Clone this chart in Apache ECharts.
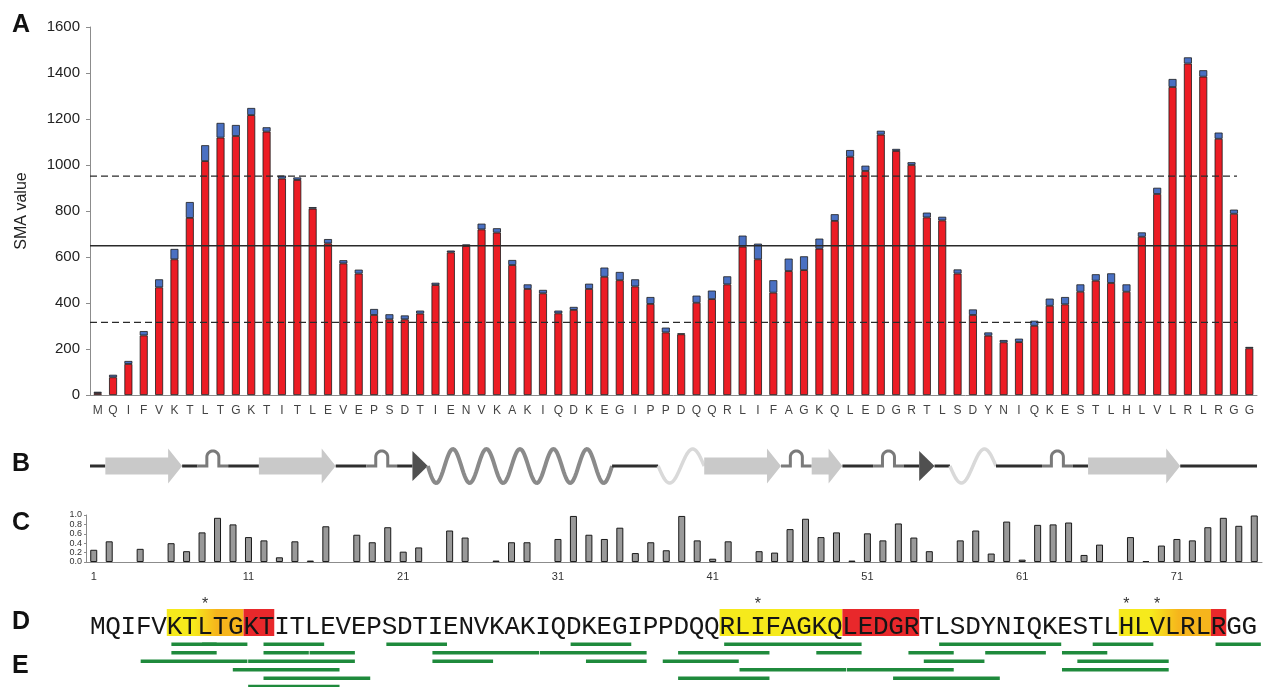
<!DOCTYPE html>
<html>
<head>
<meta charset="utf-8">
<title>Ubiquitin SMA profile</title>
<script src="https://cdn.jsdelivr.net/npm/echarts@6/dist/echarts.min.js"></script>
<style>
  html, body { margin: 0; padding: 0; background: #fff; }
  #chart { width: 1263px; height: 687px; }
</style>
</head>
<body>
<div id="chart"></div>
<script>
// ---- data ---------------------------------------------------------------
const SEQUENCE = 'MQIFVKTLTGKTITLEVEPSDTIENVKAKIQDKEGIPPDQQRLIFAGKQLEDGRTLSDYNIQKESTLHLVLRLRGG';
const residues = SEQUENCE.split('');
const residueNumbers = residues.map((_, i) => String(i + 1));

// Panel A: SMA value per residue, red core part and blue upper part
const smaRed = [8, 77, 135, 259, 468, 590, 770, 1017, 1119, 1126,
  1217, 1145, 941, 935, 810, 659, 572, 528, 348, 329,
  329, 354, 478, 620, 648, 720, 706, 565, 461, 442,
  355, 370, 461, 514, 499, 472, 396, 272, 264, 401,
  417, 481, 645, 590, 445, 539, 543, 636, 757, 1036,
  974, 1132, 1061, 1000, 772, 759, 528, 348, 258, 229,
  230, 301, 388, 394, 449, 497, 487, 449, 688, 874,
  1339, 1441, 1384, 1114, 788, 203];
const smaBlue = [6, 11, 13, 19, 35, 45, 69, 69, 64, 48,
  31, 19, 13, 11, 7, 19, 14, 17, 26, 22,
  17, 13, 10, 8, 7, 25, 19, 22, 20, 15,
  12, 13, 23, 40, 36, 31, 30, 21, 4, 31,
  37, 35, 48, 68, 54, 54, 60, 44, 29, 29,
  23, 17, 9, 12, 21, 16, 18, 24, 14, 10,
  15, 22, 31, 32, 32, 28, 42, 32, 19, 27,
  35, 27, 28, 27, 18, 6];
const smaMean = 649;
const smaUpper = 952;
const smaLower = 316;

// Panel B: secondary structure, [kind, first residue, last residue]
const secondaryStructure = [
  ['coil', 1, 1], ['strand', 2, 6], ['coil', 7, 7], ['turn', 8, 9], ['coil', 10, 11],
  ['strand', 12, 16], ['coil', 17, 18], ['turn', 19, 20], ['coil', 21, 21], ['bend', 22, 22],
  ['helix', 23, 34], ['coil', 35, 37], ['helix310', 38, 40], ['strand', 41, 45], ['turn', 46, 47],
  ['strand', 48, 49], ['coil', 50, 51], ['turn', 52, 53], ['coil', 54, 54], ['bend', 55, 55],
  ['coil', 56, 56], ['helix310', 57, 59], ['coil', 60, 62], ['turn', 63, 64], ['coil', 65, 65],
  ['strand', 66, 71], ['coil', 72, 76]
];
const SS_KINDS = ['coil', 'strand', 'turn', 'bend', 'helix', 'helix310'];

// Panel C: relative value per residue
const relValues = [0.26, 0.44, 0, 0.28, 0, 0.40, 0.23, 0.63, 0.94, 0.80,
  0.53, 0.46, 0.10, 0.44, 0.03, 0.76, 0, 0.58, 0.42, 0.74,
  0.22, 0.31, 0, 0.67, 0.52, 0, 0.03, 0.42, 0.42, 0,
  0.49, 0.98, 0.58, 0.49, 0.73, 0.19, 0.42, 0.25, 0.98, 0.46,
  0.07, 0.44, 0, 0.23, 0.20, 0.70, 0.92, 0.53, 0.63, 0.03,
  0.61, 0.46, 0.82, 0.52, 0.23, 0, 0.46, 0.67, 0.18, 0.86,
  0.05, 0.79, 0.80, 0.84, 0.15, 0.37, 0, 0.53, 0.02, 0.35,
  0.49, 0.46, 0.74, 0.94, 0.77, 0.99];

// Panel D: highlighted stretches [first, last, kind] and starred residues
const highlights = [
  [6, 10, 'fade'], [11, 12, 'red'],
  [42, 49, 'yellow'], [50, 54, 'red'],
  [68, 73, 'fade'], [74, 74, 'red']
];
const starred = [8, 44, 68, 70];

// Panel E: peptides [row, first residue, last residue]
const peptides = [
  [0, 6, 8], [0, 8, 10], [0, 12, 15], [0, 20, 23], [0, 32, 35], [0, 42, 50], [0, 56, 63], [0, 66, 69], [0, 74, 76],
  [1, 6, 8], [1, 12, 14], [1, 15, 17], [1, 23, 29], [1, 30, 36], [1, 39, 44], [1, 48, 50], [1, 54, 56], [1, 59, 62], [1, 64, 66],
  [2, 4, 10], [2, 11, 17], [2, 23, 26], [2, 33, 36], [2, 38, 42], [2, 55, 58], [2, 65, 70],
  [3, 10, 16], [3, 43, 49], [3, 50, 56], [3, 64, 70],
  [4, 12, 18], [4, 39, 44], [4, 53, 59],
  [5, 11, 16]
];

// ---- styles -------------------------------------------------------------
const SANS = "'Liberation Sans', Arial, sans-serif";
const MONO = "'Liberation Mono', 'Courier New', monospace";
const COLORS = {
  red: '#ec1c24', blue: '#4a70c2', edge: '#1c1c1c', axis: '#8c8c8c',
  coil: '#2e2e2e', strand: '#c9c9c9', turn: '#7a7a7a', bend: '#505050',
  helix: '#8a8a8a', helix310: '#d9d9d9', peptide: '#1f8a3c',
  hlYellow: '#f6ea1c', hlOrange: '#f6b51c', hlRed: '#e8282b'
};

// ---- renderers ----------------------------------------------------------
function wavePoints(x0, x1, yc, amp, periods) {
  const pts = [];
  const n = 160;
  for (let i = 0; i <= n; i++) {
    const t = i / n;
    pts.push([x0 + (x1 - x0) * t, yc + amp * Math.sin(2 * Math.PI * periods * t)]);
  }
  return pts;
}

function renderStructure(params, api) {
  const kind = SS_KINDS[api.value(2)];
  const p0 = api.coord([api.value(0), 0]);
  const p1 = api.coord([api.value(1), 0]);
  const x0 = p0[0], x1 = p1[0], yc = p0[1];
  if (kind === 'coil') {
    return { type: 'line', shape: { x1: x0, y1: yc, x2: x1, y2: yc },
      style: { stroke: COLORS.coil, lineWidth: 3 } };
  }
  if (kind === 'strand') {
    const h = 8.5, H = 17.5, L = Math.min(14, (x1 - x0) * 0.45);
    return { type: 'polygon', shape: { points: [
      [x0, yc - h], [x1 - L, yc - h], [x1 - L, yc - H], [x1, yc],
      [x1 - L, yc + H], [x1 - L, yc + h], [x0, yc + h]] },
      style: { fill: COLORS.strand } };
  }
  if (kind === 'bend') {
    return { type: 'polygon', shape: { points: [[x0, yc - 15], [x1, yc], [x0, yc + 15]] },
      style: { fill: COLORS.bend } };
  }
  if (kind === 'turn') {
    const xm = (x0 + x1) / 2, r = 6, rise = 9;
    const pts = [[x0, yc], [xm - r, yc], [xm - r, yc - rise]];
    for (let i = 0; i <= 20; i++) {
      const a = Math.PI - Math.PI * i / 20;
      pts.push([xm + r * Math.cos(a), yc - rise - r * Math.sin(a)]);
    }
    pts.push([xm + r, yc - rise], [xm + r, yc], [x1, yc]);
    return { type: 'polyline', shape: { points: pts },
      style: { stroke: COLORS.turn, lineWidth: 3, fill: null } };
  }
  if (kind === 'helix') {
    return { type: 'polyline', shape: { points: wavePoints(x0, x1, yc, 17, 5.5) },
      style: { stroke: COLORS.helix, lineWidth: 4, fill: null } };
  }
  return { type: 'polyline', shape: { points: wavePoints(x0, x1, yc, 17, 1) },
    style: { stroke: COLORS.helix310, lineWidth: 3.5, fill: null } };
}

function highlightFill(kind) {
  if (kind === 'red') return COLORS.hlRed;
  if (kind === 'yellow') return COLORS.hlYellow;
  return new echarts.graphic.LinearGradient(0, 0, 1, 0, [
    { offset: 0, color: COLORS.hlYellow },
    { offset: 0.35, color: COLORS.hlYellow },
    { offset: 0.65, color: COLORS.hlOrange },
    { offset: 1, color: COLORS.hlOrange }
  ]);
}

function renderHighlight(params, api) {
  const a = api.coord([api.value(0) - 1, 1]);
  const b = api.coord([api.value(1), 0]);
  return { type: 'rect', shape: { x: a[0], y: a[1], width: b[0] - a[0], height: b[1] - a[1] },
    style: { fill: highlightFill(highlights[params.dataIndex][2]) } };
}

function renderLetter(params, api) {
  const p = api.coord([api.value(0) - 0.5, 0.32]);
  return { type: 'text', style: { text: residues[params.dataIndex], x: p[0], y: p[1],
    align: 'center', verticalAlign: 'middle', font: '26px ' + MONO, fill: '#151515' } };
}

function renderStar(params, api) {
  const p = api.coord([api.value(0) - 0.5, 1]);
  return { type: 'text', style: { text: '*', x: p[0], y: p[1] - 4,
    align: 'center', verticalAlign: 'middle', font: '16px ' + SANS, fill: '#333' } };
}

function renderPeptide(params, api) {
  const a = api.coord([api.value(1) - 1 + 0.3, api.value(0)]);
  const b = api.coord([api.value(2) + 0.25, api.value(0)]);
  return { type: 'line', shape: { x1: a[0], y1: a[1], x2: b[0], y2: b[1] },
    style: { stroke: COLORS.peptide, lineWidth: 3.5 } };
}

// ---- chart --------------------------------------------------------------
const chart = echarts.init(document.getElementById('chart'), null, { renderer: 'canvas' });

const hiddenValueX = (grid) => ({ type: 'value', gridIndex: grid, min: 0, max: residues.length, show: false });
const panelLabel = (text, y) => ({ type: 'text', left: 12, top: y - 13,
  style: { text, font: 'bold 25px ' + SANS, fill: '#111' } });

const option = {
  animation: false,
  textStyle: { fontFamily: SANS },
  grid: [
    { left: 90, top: 27, width: 1167, height: 368 },
    { left: 90, top: 440, width: 1167, height: 52 },
    { left: 86, top: 515, width: 1176, height: 47 },
    { left: 90, top: 609, width: 1167, height: 27 },
    { left: 90, top: 644.3, width: 1167, height: 42.3 }
  ],
  xAxis: [
    { type: 'category', gridIndex: 0, data: residues,
      axisLine: { lineStyle: { color: COLORS.axis } },
      axisTick: { interval: 0, length: 4, lineStyle: { color: COLORS.axis } },
      axisLabel: { interval: 0, fontSize: 12, color: '#444', margin: 10 } },
    hiddenValueX(0),
    hiddenValueX(1),
    { type: 'category', gridIndex: 2, data: residueNumbers,
      axisLine: { lineStyle: { color: COLORS.axis } },
      axisTick: { interval: 0, length: 3, lineStyle: { color: COLORS.axis } },
      axisLabel: { interval: 9, fontSize: 11, color: '#333', margin: 9 } },
    hiddenValueX(3),
    hiddenValueX(4)
  ],
  yAxis: [
    { type: 'value', gridIndex: 0, min: 0, max: 1600, interval: 200,
      name: 'SMA value', nameLocation: 'middle', nameGap: 60,
      nameTextStyle: { fontSize: 16, color: '#222' },
      axisLine: { show: true, lineStyle: { color: COLORS.axis } },
      axisTick: { show: true, length: 4, lineStyle: { color: COLORS.axis } },
      axisLabel: { fontSize: 15, color: '#222', margin: 10, formatter: (v) => String(v) },
      splitLine: { show: false } },
    { type: 'value', gridIndex: 1, min: -1, max: 1, show: false },
    { type: 'value', gridIndex: 2, min: 0, max: 1, interval: 0.2,
      axisLine: { show: true, lineStyle: { color: COLORS.axis } },
      axisTick: { show: true, length: 2, lineStyle: { color: COLORS.axis } },
      axisLabel: { fontSize: 9, color: '#333', margin: 4, lineHeight: 9,
        formatter: (v) => v.toFixed(1) },
      splitLine: { show: false } },
    { type: 'value', gridIndex: 3, min: 0, max: 1, show: false },
    { type: 'value', gridIndex: 4, min: 0, max: 5, inverse: true, show: false }
  ],
  graphic: [
    panelLabel('A', 26), panelLabel('B', 465), panelLabel('C', 524),
    panelLabel('D', 623), panelLabel('E', 667)
  ],
  series: [
    { type: 'bar', name: 'core', xAxisIndex: 0, yAxisIndex: 0, stack: 'sma', data: smaRed,
      barWidth: '52%', itemStyle: { color: COLORS.red, borderColor: COLORS.edge, borderWidth: 0.8 } },
    { type: 'bar', name: 'extra', xAxisIndex: 0, yAxisIndex: 0, stack: 'sma', data: smaBlue,
      barWidth: '52%', itemStyle: { color: COLORS.blue, borderColor: COLORS.edge, borderWidth: 0.8 } },
    { type: 'line', xAxisIndex: 1, yAxisIndex: 0, symbol: 'none', silent: true,
      data: [[0, smaMean], [74.7, smaMean]], lineStyle: { color: '#2a2a2a', width: 1.3 } },
    { type: 'line', xAxisIndex: 1, yAxisIndex: 0, symbol: 'none', silent: true,
      data: [[0, smaUpper], [74.7, smaUpper]], lineStyle: { color: '#2a2a2a', width: 1.3, type: [7, 4] } },
    { type: 'line', xAxisIndex: 1, yAxisIndex: 0, symbol: 'none', silent: true,
      data: [[0, smaLower], [74.7, smaLower]], lineStyle: { color: '#2a2a2a', width: 1.3, type: [7, 4] } },
    { type: 'custom', xAxisIndex: 2, yAxisIndex: 1, renderItem: renderStructure,
      data: secondaryStructure.map(([kind, a, b]) => [a - 1, b, SS_KINDS.indexOf(kind)]) },
    { type: 'bar', xAxisIndex: 3, yAxisIndex: 2, barWidth: 7,
      data: relValues.map((v) => (v > 0 ? v : '-')),
      itemStyle: { color: '#999999', borderColor: '#1a1a1a', borderWidth: 1 } },
    { type: 'custom', xAxisIndex: 4, yAxisIndex: 3, renderItem: renderHighlight,
      data: highlights.map(([a, b]) => [a, b]) },
    { type: 'custom', xAxisIndex: 4, yAxisIndex: 3, renderItem: renderLetter,
      data: residues.map((_, i) => [i + 1, 0]) },
    { type: 'custom', xAxisIndex: 4, yAxisIndex: 3, renderItem: renderStar,
      data: starred.map((k) => [k, 1]) },
    { type: 'custom', xAxisIndex: 5, yAxisIndex: 4, renderItem: renderPeptide,
      data: peptides }
  ]
};

chart.setOption(option);
</script>
</body>
</html>
